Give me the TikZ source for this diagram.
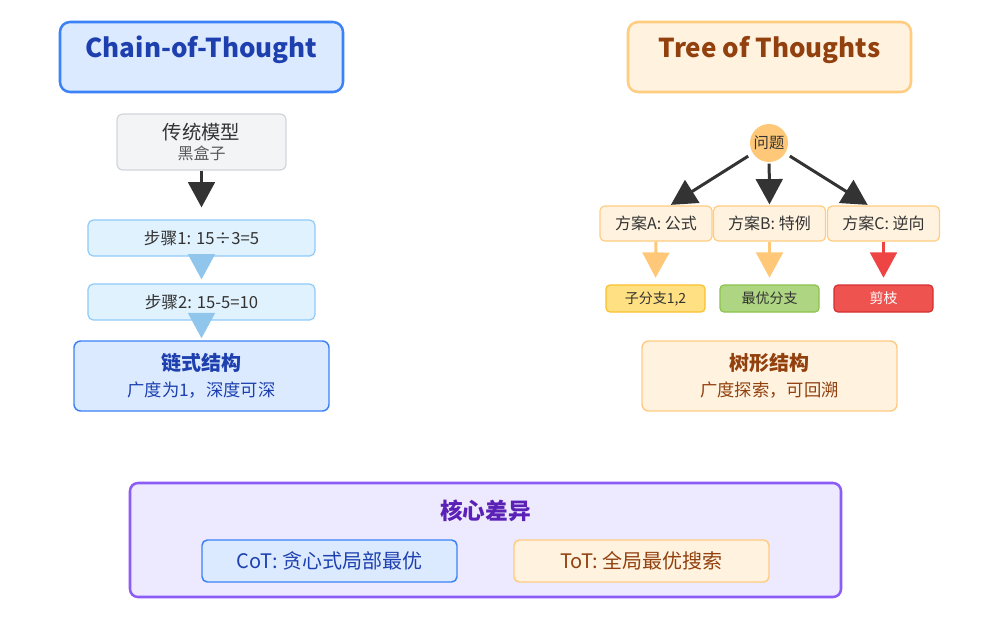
\documentclass[tikz,border=0pt]{standalone}
\usepackage{fontspec}
\setmainfont{Noto Sans CJK SC}
\usetikzlibrary{arrows.meta}
\definecolor{cotfill}{RGB}{219,234,254}
\definecolor{cotline}{RGB}{59,130,246}
\definecolor{cottext}{RGB}{30,64,175}
\definecolor{totfill}{RGB}{255,243,224}
\definecolor{totline}{RGB}{255,204,128}
\definecolor{tottext}{RGB}{146,64,14}
\definecolor{grayfill}{RGB}{243,244,246}
\definecolor{grayline}{RGB}{209,213,219}
\definecolor{stepfill}{RGB}{224,242,254}
\definecolor{stepline}{RGB}{144,202,249}
\definecolor{steparr}{RGB}{144,198,236}
\definecolor{qfill}{RGB}{255,200,120}
\definecolor{leafa}{RGB}{255,224,130}
\definecolor{leafaline}{RGB}{251,192,45}
\definecolor{leafb}{RGB}{174,213,129}
\definecolor{leafbline}{RGB}{139,195,74}
\definecolor{leafc}{RGB}{239,83,80}
\definecolor{leafcline}{RGB}{211,47,47}
\definecolor{cutarr}{RGB}{239,68,68}
\definecolor{difffill}{RGB}{237,233,254}
\definecolor{diffline}{RGB}{139,92,246}
\definecolor{difftext}{RGB}{91,33,182}
\definecolor{darkarr}{RGB}{51,51,51}
\begin{document}
\begin{tikzpicture}[x=0.75pt,y=-0.75pt,
    every node/.style={inner sep=0pt},
    titlebox/.style={draw, line width=1.9pt, rounded corners=7.5pt,
      minimum width=212.25pt, minimum height=52.5pt},
    sumbox/.style={draw, line width=1.1pt, rounded corners=5pt,
      minimum width=191.25pt, minimum height=52.5pt, align=center},
    stepbox/.style={draw=stepline, fill=stepfill, line width=0.9pt,
      rounded corners=4pt, minimum width=170.25pt, minimum height=27pt,
      text=darkarr, font={\fontsize{12.5}{14}\selectfont}},
    planbox/.style={draw=totline, fill=totfill, line width=0.9pt,
      rounded corners=3.5pt, minimum width=84pt, minimum height=26.25pt,
      text=darkarr, font={\fontsize{12}{14}\selectfont}},
    leafbox/.style={draw, line width=0.9pt, rounded corners=3pt,
      minimum width=74.25pt, minimum height=20.25pt,
      font={\fontsize{10.5}{12}\selectfont}},
    pairbox/.style={draw, line width=1.1pt, rounded corners=4pt,
      minimum width=191.25pt, minimum height=31.5pt,
      font={\fontsize{15}{18}\selectfont}},
    bigarr/.style={-{Triangle[width=20pt,length=19pt]}, line width=2.25pt}]
\useasboundingbox (0,0) rectangle (986,626);
% chain of thought
\node[titlebox, draw=cotline, fill=cotfill] (cot) at (201.5,57) {};
\node[text=cottext, font={\fontsize{19.5}{23}\selectfont\bfseries}] at (201.5,50) {Chain-of-Thought};
\node[draw=grayline, fill=grayfill, line width=0.9pt, rounded corners=4.5pt,
  minimum width=126.75pt, minimum height=42pt, align=center] (model) at (201.5,142)
  {{\fontsize{14.5}{16}\selectfont\color{darkarr}传统模型}\\[2.5pt]{\fontsize{12}{13}\selectfont\color{black!65}黑盒子}};
\node[stepbox] (step1) at (201.5,238) {步骤1: 15÷3=5};
\node[stepbox] (step2) at (201.5,302) {步骤2: 15-5=10};
\node[sumbox, draw=cotline, fill=cotfill, text=cottext] (chain) at (201.5,376)
  {{\fontsize{15}{17}\selectfont\bfseries 链式结构}\\[6.25pt]{\fontsize{13}{15}\selectfont 广度为1，深度可深}};
\draw[bigarr, darkarr, shorten >=9pt] (model.south) -- (step1.north);
\draw[bigarr, steparr, shorten >=3pt] (step1.south) -- (step2.north);
\draw[bigarr, steparr, shorten >=1.5pt] (step2.south) -- (chain.north);
% tree of thoughts
\node[titlebox, draw=totline, fill=totfill] (tot) at (769.5,57) {};
\node[text=tottext, font={\fontsize{19.5}{23}\selectfont\bfseries}] at (769.5,50) {Tree of Thoughts};
\node[circle, fill=qfill, minimum size=28.5pt, text=darkarr,
  font={\fontsize{11.5}{13}\selectfont}] (q) at (769,143) {问题};
\node[planbox] (pa) at (656,223.5) {方案A: 公式};
\node[planbox] (pb) at (769.5,223.5) {方案B: 特例};
\node[planbox] (pc) at (883.5,223.5) {方案C: 逆向};
\node[leafbox, draw=leafaline, fill=leafa, text=darkarr] (la) at (655.5,298.5) {子分支1,2};
\node[leafbox, draw=leafbline, fill=leafb, text=darkarr] (lb) at (769.5,298.5) {最优分支};
\node[leafbox, draw=leafcline, fill=leafc, text=white] (lc) at (883.5,298.5) {剪枝};
\draw[bigarr, darkarr, shorten <=4pt, shorten >=0.75pt] (q) -- ([xshift=10.5pt]pa.north);
\draw[bigarr, darkarr, shorten <=1pt, shorten >=0.75pt] (q) -- (pb.north);
\draw[bigarr, darkarr, shorten <=4pt, shorten >=0.75pt] (q) -- ([xshift=-11.25pt]pc.north);
\draw[bigarr, qfill, shorten >=5pt] (pa.south) -- (la.north);
\draw[bigarr, qfill, shorten >=5pt] (pb.south) -- (lb.north);
\draw[bigarr, cutarr, shorten >=5pt] (pc.south) -- (lc.north);
\node[sumbox, draw=totline, fill=totfill, text=tottext] (tree) at (769.5,376)
  {{\fontsize{15}{17}\selectfont\bfseries 树形结构}\\[6.25pt]{\fontsize{13}{15}\selectfont 广度探索，可回溯}};
% core difference
\node[draw=diffline, fill=difffill, line width=1.9pt, rounded corners=6pt,
  minimum width=533.25pt, minimum height=85.5pt] (diff) at (485.5,540) {};
\node[text=difftext, font={\fontsize{17}{20}\selectfont\bfseries}] at (485.5,511) {核心差异};
\node[pairbox, draw=cotline, fill=cotfill, text=cottext] (cotd) at (329.5,561) {CoT: 贪心式局部最优};
\node[pairbox, draw=totline, fill=totfill, text=tottext] (totd) at (641.5,561) {ToT: 全局最优搜索};
\end{tikzpicture}
\end{document}
